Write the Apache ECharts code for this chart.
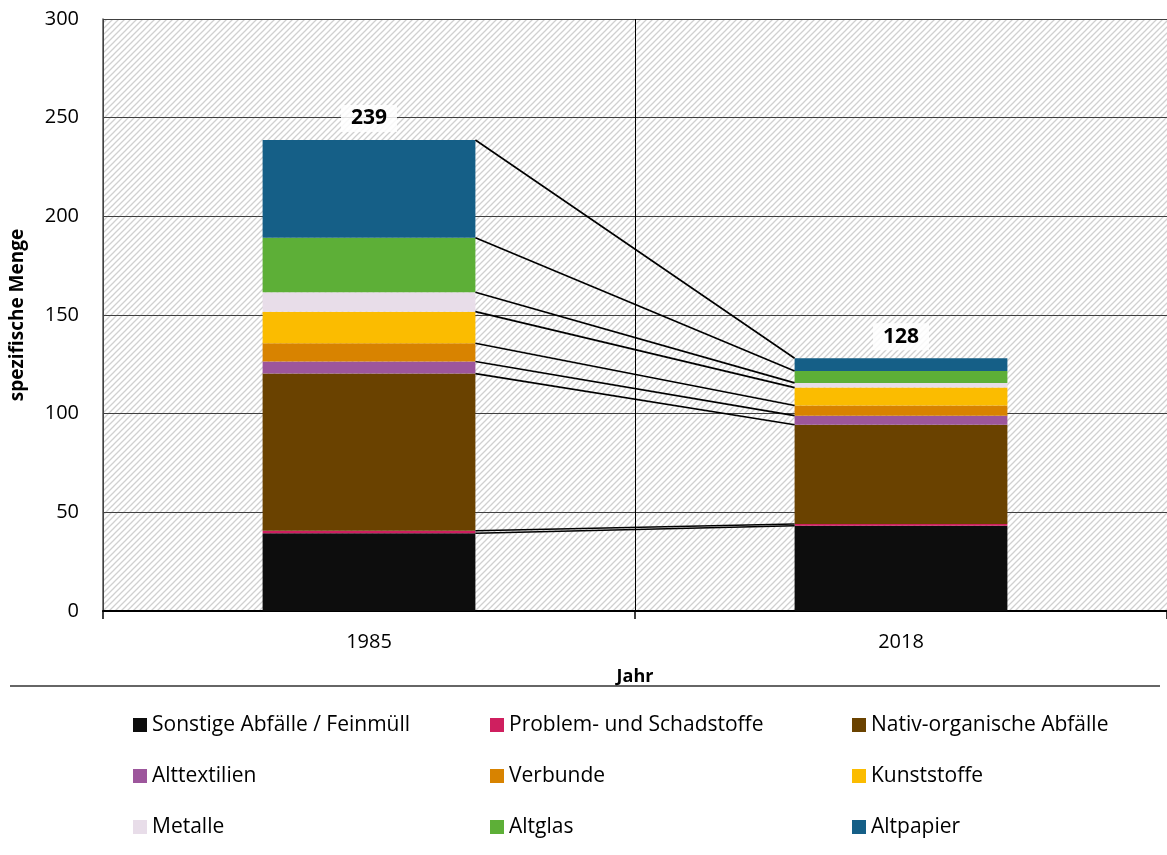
<!DOCTYPE html>
<html><head><meta charset="utf-8">
<script src="https://cdn.jsdelivr.net/npm/echarts@6/dist/echarts.min.js"></script>
<style>html,body{margin:0;padding:0;background:#fff}#c{width:1167px;height:855px}</style>
</head><body><div id="c"></div>
<script>
const years = ['1985', '2018'];
const seriesNames = ['Sonstige Abfälle / Feinmüll', 'Problem- und Schadstoffe', 'Nativ-organische Abfälle', 'Alttextilien', 'Verbunde', 'Kunststoffe', 'Metalle', 'Altglas', 'Altpapier'];
const sonstige = [39.4, 43.2];
const problem = [1.3, 0.9];
const nativ = [79.6, 50.3];
const alttextilien = [6.1, 4.6];
const verbunde = [9.3, 5.1];
const kunststoffe = [16.0, 9.1];
const metalle = [9.8, 2.4];
const altglas = [27.7, 6.0];
const altpapier = [49.5, 6.5];
const totals = [239, 128];
const colors = ['#0d0d0d', '#cf1f5f', '#6a4200', '#9d569c', '#d88300', '#fbbc00', '#e8dde9', '#5daf37', '#155f87'];
const yTicks = [0, 300, 50];

const values = [sonstige, problem, nativ, alttextilien, verbunde, kunststoffe, metalle, altglas, altpapier];
// cumulative tops for connecting lines
const cum = [];
let acc = [0, 0];
values.forEach(v => { acc = [acc[0] + v[0], acc[1] + v[1]]; cum.push([0, acc[0], acc[1]]); });

// hatch pattern
const pc = document.createElement('canvas');
pc.width = 6; pc.height = 6;
const g = pc.getContext('2d');
g.fillStyle = '#ffffff'; g.fillRect(0, 0, 6, 6);
g.strokeStyle = '#d0d0d0'; g.lineWidth = 1.3;
g.beginPath();
g.moveTo(-1, 7); g.lineTo(7, -1);
g.moveTo(-4, 4); g.lineTo(4, -4);
g.moveTo(2, 10); g.lineTo(10, 2);
g.stroke();

const FONT = 'Open Sans';
const BAR_W = 0.4;

const series = values.map((v, i) => ({
  name: seriesNames[i], type: 'bar', stack: 'total', data: v, barWidth: (BAR_W * 100) + '%',
  itemStyle: { color: colors[i] },
  label: i === values.length - 1 ? {
    show: true, position: 'top', distance: 8,
    formatter: p => String(totals[p.dataIndex]),
    fontFamily: FONT, fontWeight: 'bold', fontSize: 21, color: '#000',
    backgroundColor: 'rgba(255,255,255,0.85)', padding: [3, 10]
  } : { show: false },
  z: 3
}));
series.push({
  type: 'custom', name: 'conn', data: cum, encode: { x: 0, y: [1, 2] }, z: 5, silent: true,
  renderItem: (params, api) => {
    const p1 = api.coord([0, api.value(1)]);
    const p2 = api.coord([1, api.value(2)]);
    const bw = api.size([1, 0])[0] * BAR_W;
    return { type: 'line', shape: { x1: p1[0] + bw / 2, y1: p1[1], x2: p2[0] - bw / 2, y2: p2[1] }, style: { stroke: '#000', lineWidth: 1.6 } };
  }
});

const legendCols = [[0, 3, 6], [1, 4, 7], [2, 5, 8]];
const legendLefts = [133, 490, 852];
const legends = legendCols.map((col, k) => ({
  orient: 'vertical', left: legendLefts[k], top: 714, padding: 0,
  data: col.map(i => ({ name: seriesNames[i], icon: 'rect' })),
  itemWidth: 14, itemHeight: 14, itemGap: 29,
  textStyle: { fontFamily: FONT, fontSize: 21, color: '#000', lineHeight: 22 },
  selectedMode: false
}));

const chart = echarts.init(document.getElementById('c'), null, { renderer: 'canvas' });
chart.setOption({
  animation: false,
  color: colors,
  textStyle: { fontFamily: FONT },
  grid: { left: 100, right: -5, top: 19, bottom: 244, show: true, backgroundColor: { image: pc, repeat: 'repeat' }, borderWidth: 0 },
  legend: legends,
  xAxis: {
    type: 'category', data: years,
    name: 'Jahr', nameLocation: 'middle', nameGap: 57,
    nameTextStyle: { fontFamily: FONT, fontWeight: 'bold', fontSize: 18, color: '#000' },
    axisLine: { lineStyle: { color: '#000', width: 2 } },
    axisTick: { show: true, length: 8, lineStyle: { color: '#000', width: 1.5 } },
    axisLabel: { fontFamily: FONT, fontSize: 20, color: '#000', margin: 21 },
    splitLine: { show: true, lineStyle: { color: '#000', width: 1 } }
  },
  yAxis: {
    type: 'value', min: yTicks[0], max: yTicks[1], interval: yTicks[2],
    name: 'spezifische Menge', nameLocation: 'middle', nameGap: 76, nameRotate: 90,
    nameTextStyle: { fontFamily: FONT, fontWeight: 'bold', fontSize: 19, color: '#000' },
    axisLine: { show: true, lineStyle: { color: '#595959', width: 1.5 } },
    axisTick: { show: false },
    axisLabel: { fontFamily: FONT, fontSize: 20, color: '#000', margin: 24 },
    splitLine: { show: true, lineStyle: { color: '#404040', width: 1.2 } }
  },
  graphic: [{ type: 'line', shape: { x1: 10, y1: 686, x2: 1160, y2: 686 }, style: { stroke: '#333', lineWidth: 1.5 } }],
  series
});
</script></body></html>
